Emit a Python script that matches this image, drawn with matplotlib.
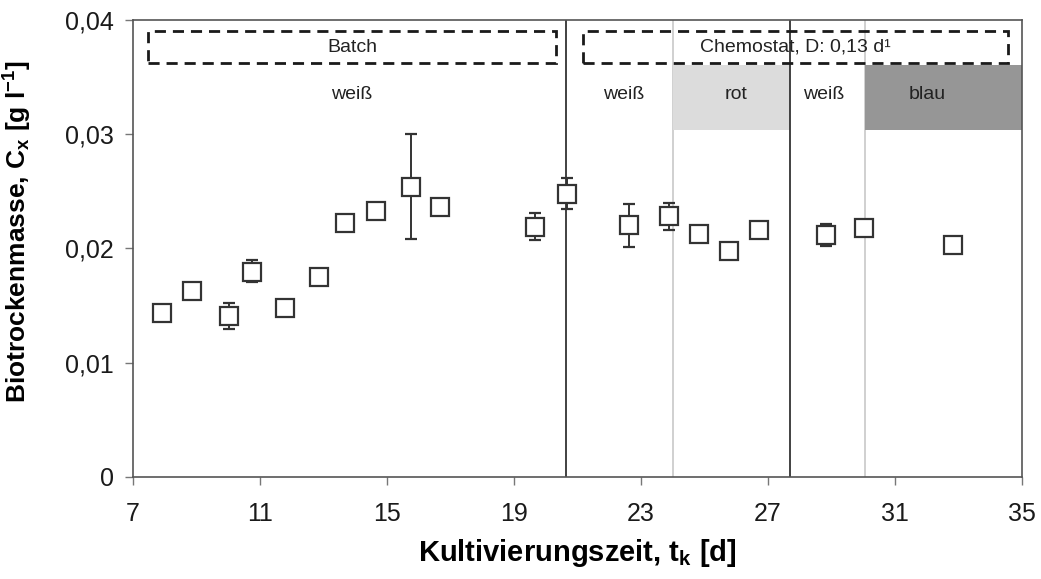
import matplotlib
matplotlib.use('Agg')
import matplotlib.pyplot as plt
from matplotlib.patches import Rectangle
from matplotlib.ticker import FuncFormatter

plt.rcParams['font.family'] = ['Liberation Sans', 'DejaVu Sans']
plt.rcParams['mathtext.fontset'] = 'custom'
plt.rcParams['mathtext.rm'] = 'Liberation Sans:bold'
plt.rcParams['mathtext.it'] = 'Liberation Sans:bold'
plt.rcParams['mathtext.bf'] = 'Liberation Sans:bold'

# ---- data ----
t_days = [7.9, 8.87, 10.02, 10.75, 11.79, 12.86, 13.67, 14.66, 15.75, 16.67,
          19.66, 20.66, 22.62, 23.88, 24.84, 25.77, 26.72, 28.84, 30.02, 32.83]
cx = [0.01435, 0.01628, 0.01412, 0.01797, 0.01476, 0.01753, 0.02226, 0.02328,
      0.02536, 0.0236, 0.0219, 0.02474, 0.02203, 0.02287, 0.0213, 0.01978,
      0.0216, 0.02118, 0.02182, 0.0203]
err_lo = [0, 0, 0.00117, 0.00087, 0, 0, 0, 0, 0.0045, 0, 0.00116, 0.00131,
          0.00193, 0.00127, 0, 0, 0, 0.00098, 0, 0]
err_hi = [0, 0, 0.00108, 0.00103, 0, 0, 0, 0, 0.0047, 0, 0.0012, 0.0014,
          0.00187, 0.00113, 0, 0, 0, 0.00092, 0, 0]

phase_lines = [20.65, 27.7]          # batch -> chemostat, new chemostat run
light_lines = [24.0, 30.05]          # light colour change
light_labels = ['weiß', 'weiß', 'rot', 'weiß', 'blau']
light_label_x = [13.9, 22.45, 26.0, 28.75, 32.0]

fig, ax = plt.subplots(figsize=(10.41, 5.79), dpi=100)
fig.subplots_adjust(left=0.1278, right=0.9818, bottom=0.1762, top=0.9655)

ax.set_xlim(7, 35)
ax.set_ylim(0, 0.04)

# shaded light regions
ax.add_patch(Rectangle((light_lines[0], 0.0304), phase_lines[1] - light_lines[0], 0.0057,
                       facecolor='#dcdcdc', edgecolor='none', zorder=1))
ax.add_patch(Rectangle((light_lines[1], 0.0304), 35 - light_lines[1], 0.0057,
                       facecolor='#969696', edgecolor='none', zorder=1))

for xv in light_lines:
    ax.axvline(xv, color='#c8c8c8', lw=1.2, zorder=0.5)
for xv in phase_lines:
    ax.axvline(xv, color='#333333', lw=1.3, zorder=2)

# dashed boxes
ax.add_patch(Rectangle((7.47, 0.0362), 20.32 - 7.47, 0.0028, fill=False,
                       edgecolor='#1a1a1a', lw=2, ls=(0, (4, 2.5)), zorder=3))
ax.add_patch(Rectangle((21.17, 0.0362), 34.56 - 21.17, 0.0028, fill=False,
                       edgecolor='#1a1a1a', lw=2, ls=(0, (4, 2.5)), zorder=3))
ax.text(13.9, 0.0376, 'Batch', ha='center', va='center', fontsize=14, color='#222222', zorder=4)
ax.text(27.85, 0.0376, 'Chemostat, D: 0,13 d¹', ha='center', va='center', fontsize=14,
        color='#222222', zorder=4)

for lab, xv in zip(light_labels, light_label_x):
    ax.text(xv, 0.0335, lab, ha='center', va='center', fontsize=14, color='#222222', zorder=4)

ax.errorbar(t_days, cx, yerr=[err_lo, err_hi], fmt='s', ms=13, mfc='white', mec='#333333',
            mew=1.6, ecolor='#333333', elinewidth=1.4, capsize=4, capthick=1.4, zorder=5)

ax.set_xticks(range(7, 36, 4))
ax.set_yticks([0, 0.01, 0.02, 0.03, 0.04])
ax.yaxis.set_major_formatter(FuncFormatter(lambda v, p: '0' if v == 0 else f'{v:.2f}'.replace('.', ',')))
ax.tick_params(direction='out', length=6, width=1, colors='#777777', labelcolor='#1a1a1a',
               labelsize=18, pad=8)
ax.tick_params(axis='x', pad=12)
for s in ax.spines.values():
    s.set_color('#555555')
    s.set_linewidth(1.2)

ax.set_xlabel(r'Kultivierungszeit, t$_k$ [d]', fontsize=21, fontweight='bold', labelpad=8)
ax.set_ylabel(r'Biotrockenmasse, C$_x$ [g l$^{-1}$]', fontsize=19, fontweight='bold')
ax.yaxis.set_label_coords(-0.1115, 0.536)

fig.savefig('out.png', dpi=100)
